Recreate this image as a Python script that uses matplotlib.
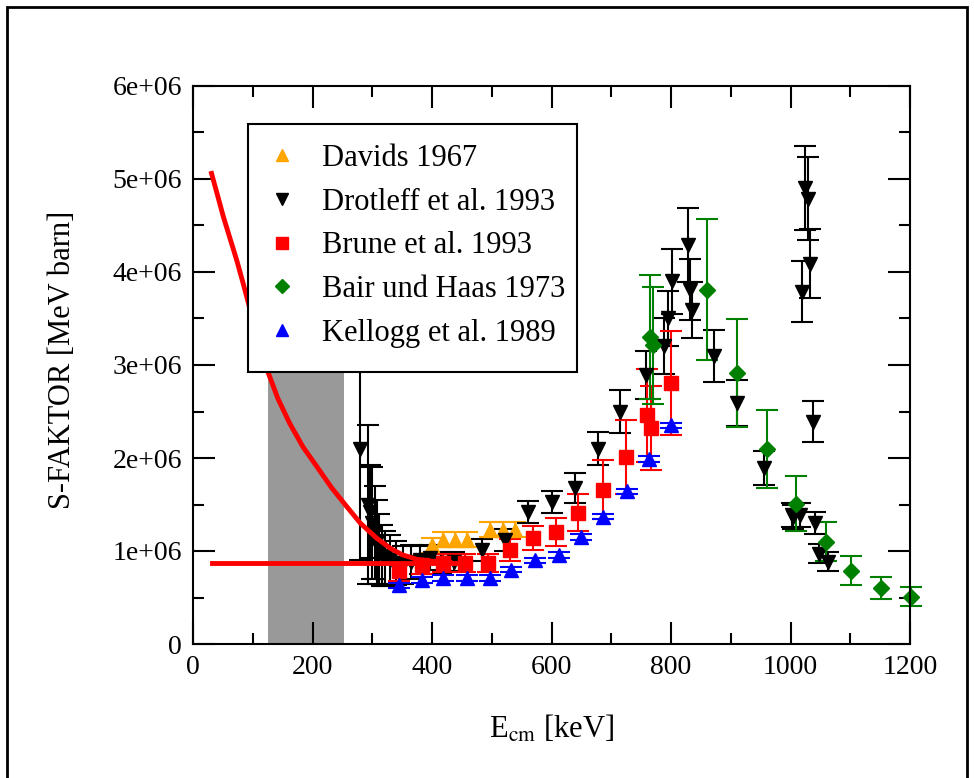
import numpy as np
import matplotlib
matplotlib.use('Agg')
import matplotlib.pyplot as plt
from matplotlib.lines import Line2D
from matplotlib.patches import Rectangle

plt.rcParams['font.family'] = ['Liberation Serif', 'DejaVu Serif']
plt.rcParams['mathtext.fontset'] = 'stix'

# data (E in keV, S in 1e6 MeV barn)
davids_E = [400, 419, 438, 458, 497, 519, 539]
davids_S = [1.06, 1.12, 1.12, 1.12, 1.23, 1.23, 1.23]
davids_err = [0.08, 0.08, 0.08, 0.08, 0.08, 0.08, 0.08]

drot_E = [280, 293, 297, 300, 304, 308, 312, 316, 322, 330, 340, 352, 365, 380, 397, 415, 436,
          483, 522, 561, 600, 639, 677, 715, 758, 788, 795, 801, 829, 832, 835, 872, 910, 956,
          1002, 1005, 1016, 1020, 1024, 1030, 1033, 1037, 1041, 1047, 1063]
drot_S = [2.10, 1.50, 1.42, 1.30, 1.20, 1.10, 1.02, 0.95, 0.92, 0.90, 0.87, 0.85, 0.88, 0.90, 0.93, 0.87, 0.885,
          1.01, 1.12, 1.42, 1.53, 1.68, 2.10, 2.50, 2.89, 3.20, 3.50, 3.90, 4.29, 3.81, 3.59, 3.10, 2.59, 1.89,
          1.39, 1.37, 1.39, 3.79, 4.90, 4.79, 4.09, 2.39, 1.30, 0.97, 0.885]
drot_err = [1.2, 0.85, 0.5, 0.6, 0.5, 0.45, 0.38, 0.33, 0.3, 0.27, 0.24, 0.2, 0.18, 0.15, 0.13, 0.12, 0.1,
            0.12, 0.12, 0.12, 0.12, 0.16, 0.18, 0.23, 0.26, 0.3, 0.3, 0.35, 0.4, 0.33, 0.3, 0.28, 0.25, 0.18,
            0.13, 0.13, 0.13, 0.33, 0.45, 0.45, 0.37, 0.22, 0.12, 0.1, 0.1]

brune_E = [344, 383, 419, 455, 494, 531, 569, 607, 645, 687, 725, 760, 766, 800]
brune_S = [0.78, 0.85, 0.87, 0.87, 0.87, 1.01, 1.14, 1.20, 1.41, 1.66, 2.01, 2.46, 2.32, 2.81]
brune_err = [0.1, 0.1, 0.1, 0.1, 0.1, 0.12, 0.13, 0.15, 0.2, 0.32, 0.4, 0.5, 0.45, 0.56]

bair_E = [765, 770, 860, 910, 961, 1010, 1060, 1101, 1151, 1201]
bair_S = [3.30, 3.21, 3.81, 2.91, 2.10, 1.51, 1.10, 0.79, 0.60, 0.51]
bair_err = [0.67, 0.63, 0.76, 0.58, 0.42, 0.30, 0.21, 0.16, 0.12, 0.10]

kell_E = [344, 383, 419, 458, 497, 533, 572, 612, 650, 687, 726, 764, 800]
kell_S = [0.63, 0.69, 0.71, 0.71, 0.71, 0.80, 0.90, 0.96, 1.15, 1.37, 1.64, 1.99, 2.35]
kell_err = [0.03] * 13

curve_E = [31, 40, 51, 62, 73, 83, 93, 108, 124, 142, 162, 184, 207, 232, 257, 280, 307, 330,
           350, 375, 400, 430]
curve_S = [5.06, 4.85, 4.59, 4.36, 4.13, 3.90, 3.66, 3.30, 2.95, 2.64, 2.37, 2.12, 1.91, 1.68,
           1.48, 1.30, 1.14, 1.03, 0.96, 0.91, 0.89, 0.88]
flat_E = [32, 440]
flat_S = [0.875, 0.875]

window_E = [125, 252]
window_top = 2.95

fig = plt.figure(figsize=(9.74, 7.78), dpi=100)
ax = fig.add_axes([193/974, 134/778, 717/974, 558/778])

ax.add_patch(Rectangle((window_E[0], 0), window_E[1]-window_E[0], window_top*1e6,
                       facecolor='#999999', edgecolor='none', zorder=1))

series = [
    (davids_E, davids_S, davids_err, '#FFA500', '^', 'Davids 1967'),
    (drot_E, drot_S, drot_err, 'black', 'v', 'Drotleff et al. 1993'),
    (brune_E, brune_S, brune_err, '#FF0000', 's', 'Brune et al. 1993'),
    (bair_E, bair_S, bair_err, '#008000', 'D', 'Bair und Haas 1973'),
    (kell_E, kell_S, kell_err, '#0000FF', '^', 'Kellogg et al. 1989'),
]
sizes = {'^': 10.5, 'v': 10.5, 's': 9.5, 'D': 8.5}
handles = []
for E, S, err, col, mk, lab in series:
    ms = sizes[mk]
    ax.errorbar(E, np.array(S)*1e6, yerr=np.array(err)*1e6, fmt=mk, color=col, ms=ms,
                ecolor=col, elinewidth=1.5, capsize=8, capthick=1.5, zorder=2, clip_on=False)
    handles.append(Line2D([], [], ls='none', marker=mk, color=col, ms=ms*0.85, label=lab))

ax.plot(curve_E, np.array(curve_S)*1e6, color='red', lw=3.5, zorder=3, solid_joinstyle='round')
ax.plot(flat_E, np.array(flat_S)*1e6, color='red', lw=3.5, zorder=3)

ax.set_xlim(0, 1200)
ax.set_ylim(0, 6e6)
ax.set_xticks(range(0, 1201, 200))
ax.set_xticks(range(0, 1201, 100), minor=True)
ax.set_yticks(np.arange(0, 6.1e6, 1e6))
ax.set_yticks(np.arange(0, 6.1e6, 5e5), minor=True)
ax.set_yticklabels(['0', '1e+06', '2e+06', '3e+06', '4e+06', '5e+06', '6e+06'])
ax.tick_params(which='both', direction='in', top=True, right=True, labelsize=20, width=1.5)
ax.tick_params(which='major', length=16, pad=8)
ax.tick_params(which='minor', length=8)
for sp in ax.spines.values():
    sp.set_linewidth(1.5)

ax.set_xlabel(r'E$_{\rm cm}$ [keV]', fontsize=22)
ax.set_ylabel('S-FAKTOR [MeV barn]', fontsize=22)
ax.xaxis.set_label_coords(0.5, -0.125)
ax.yaxis.set_label_coords(-0.162, 0.51)

# legend box drawn separately so its padding matches
ax.add_patch(Rectangle((0.0767, 0.4875), 0.4589, 0.4444, transform=ax.transAxes,
                       facecolor='white', edgecolor='black', linewidth=1.5, zorder=4))
leg = ax.legend(handles=handles, loc='upper left', bbox_to_anchor=(0.092, 0.896),
                borderaxespad=0, fontsize=22, frameon=False, labelspacing=0.48,
                handletextpad=0.56, borderpad=0, handlelength=1.5)
leg.set_zorder(5)

fig.patches.append(Rectangle((7/974, -0.02), 960/974, 1.02 - 7/778, transform=fig.transFigure,
                             fill=False, edgecolor='black', linewidth=2))

fig.savefig('out.png', dpi=100)
